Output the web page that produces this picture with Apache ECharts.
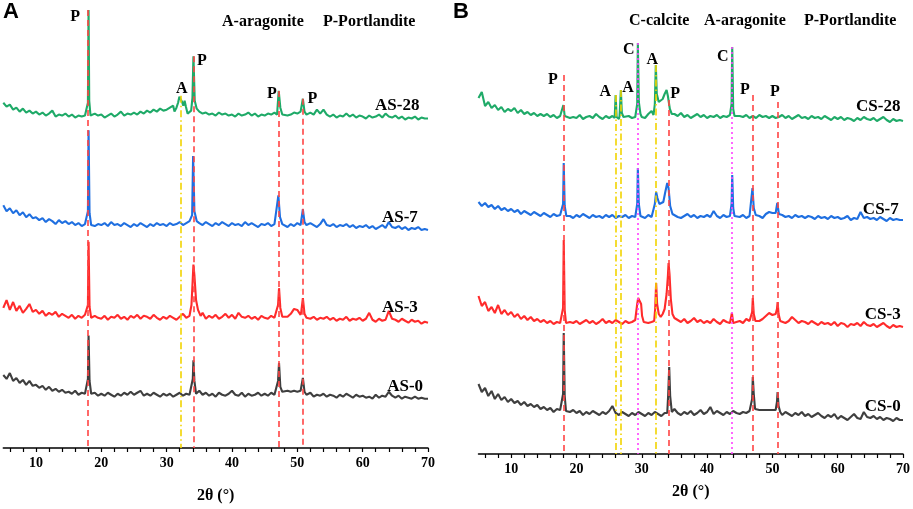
<!DOCTYPE html>
<html>
<head>
<meta charset="utf-8">
<script src="https://cdn.jsdelivr.net/npm/echarts@6.0.0/dist/echarts.min.js"></script>
<style>
  html, body { margin: 0; padding: 0; background: #fff; }
  #chart { width: 913px; height: 509px; }
</style>
</head>
<body>
<div id="chart"></div>
<script type="text/javascript">
// baseline points every 0.5 deg from 5 to 70, peaks given as [2theta, intensity]
var xStart = 5, xStep = 0.5;
var tickValues = [6, 8, 10, 12, 14, 16, 18, 20, 22, 24, 26, 28, 30, 32, 34, 36, 38, 40, 42, 44, 46, 48, 50, 52, 54, 56, 58, 60, 62, 64, 66, 68, 70];
var labelValues = [10, 20, 30, 40, 50, 60, 70];

// ---- panel A ----
var as28Base = [
  350,346,348,343,345,341,344,340,342,339,
  341,338,340,337,339,342,336,338,337,339,
  336,338,335,337,336,337,338,336,339,337,
  338,335,337,339,336,338,341,337,339,338,
  340,338,341,339,342,340,343,341,344,342,
  343,345,347,352,350,347,346,349,346,343,
  341,339,340,338,339,337,340,338,339,337,
  338,336,339,337,338,340,337,339,336,338,
  337,339,338,340,341,338,339,337,338,340,
  339,341,338,336,340,338,343,339,343,338,
  336,338,335,337,336,339,336,338,335,337,
  336,334,337,335,336,338,335,339,336,335,
  337,334,336,333,335,334,336,333,335,334,
  334];
var as28Peaks = [
  [[17.75,338],[17.95,350],[18.05,444],[18.15,352],[18.35,337]],
  [[31.2,341],[31.5,345],[31.75,350],[31.95,356],[32.15,357],[32.35,351],[32.55,347],[32.75,352],[32.95,346],[33.2,339],[33.5,338],[33.75,342],[33.95,355],[34.1,397],[34.3,352],[34.6,344],[35.0,341]],
  [[46.9,338],[47.15,362],[47.4,345],[47.7,338]],
  [[50.6,339],[50.85,354],[51.1,341],[51.4,338]]
];
var as7Base = [
  246,240,243,238,241,236,239,234,237,233,
  234,231,233,229,232,230,227,231,228,230,
  227,229,226,228,225,227,226,228,225,227,
  226,228,225,229,226,227,225,228,226,224,
  227,225,228,226,224,227,225,228,226,227,
  225,228,226,227,229,226,228,230,229,227,
  228,226,229,227,225,228,226,229,227,225,
  228,226,227,225,229,226,228,226,224,227,
  226,228,225,227,229,227,226,224,227,225,
  228,226,227,225,228,226,224,227,232,226,
  225,227,224,226,225,227,224,226,223,225,
  224,226,223,225,222,224,226,223,229,224,
  223,225,222,224,221,223,222,224,221,222,
  221];
var as7Peaks = [
  [[17.7,228],[17.95,240],[18.05,322],[18.2,238],[18.45,226]],
  [[33.6,228],[33.9,236],[34.05,296],[34.25,240],[34.6,230],[35.0,228]],
  [[46.8,228],[47.1,256],[47.35,234],[47.7,227]],
  [[50.6,227],[50.85,242],[51.1,229],[51.4,226]]
];
var as3Base = [
  142,150,140,148,139,144,137,141,146,138,
  140,136,139,134,137,135,138,133,136,134,
  132,135,131,134,132,135,133,131,134,132,
  131,134,130,133,132,135,131,133,130,134,
  132,135,131,134,133,131,135,132,130,133,
  131,134,132,130,133,136,132,138,140,138,
  134,137,131,134,132,135,131,133,136,132,
  135,131,137,133,132,134,131,133,130,134,
  132,131,134,132,133,131,134,133,136,141,
  140,135,132,134,131,133,130,132,131,133,
  130,132,129,131,130,133,129,131,130,132,
  129,131,137,130,128,131,129,130,139,131,
  130,128,131,129,127,130,128,129,126,128,
  127];
var as3Peaks = [
  [[17.7,133],[17.95,145],[18.05,209],[18.2,143],[18.45,132]],
  [[33.5,134],[33.8,145],[34.0,172],[34.1,186],[34.25,175],[34.5,150],[34.8,140],[35.2,134]],
  [[46.8,133],[47.05,145],[47.2,162],[47.4,142],[47.7,133]],
  [[50.6,138],[50.85,152],[51.1,136],[51.4,132]]
];
var as0Base = [
  74,70,76,68,71,66,69,64,68,63,
  64,61,63,59,62,58,60,57,59,56,
  57,55,58,54,56,55,57,54,56,53,
  55,53,56,54,52,55,53,56,54,57,
  54,56,58,53,55,53,56,54,52,55,
  53,55,52,54,56,53,55,54,53,55,
  58,54,56,53,55,52,56,54,53,55,
  58,54,53,56,52,55,53,54,56,53,
  55,53,56,54,57,58,57,58,57,58,
  57,58,55,53,56,52,54,53,55,52,
  54,53,51,54,52,55,53,51,54,52,
  53,51,52,50,54,51,53,52,57,53,
  51,53,50,52,51,50,52,50,51,50,
  50];
var as0Peaks = [
  [[17.7,56],[17.95,70],[18.05,114],[18.2,68],[18.45,55]],
  [[33.8,54],[34.0,70],[34.1,89],[34.25,68],[34.5,55]],
  [[46.8,55],[47.05,68],[47.2,86],[47.4,62],[47.7,57]],
  [[50.6,58],[50.85,71],[51.1,57],[51.4,54]]
];

// ---- panel B ----
var cs28Base = [
  356,362,348,352,346,349,344,347,342,345,
  343,346,341,344,340,342,339,341,338,340,
  338,340,337,339,336,338,337,339,336,337,
  336,339,335,337,338,336,340,337,335,338,
  336,338,337,335,339,336,338,336,337,339,
  337,336,340,343,345,348,352,356,350,343,
  340,338,341,337,339,336,338,340,337,339,
  336,338,337,339,336,338,337,339,338,336,
  338,337,339,336,338,336,339,337,338,336,
  338,336,337,339,336,338,335,337,339,336,
  337,335,338,336,337,335,338,336,334,337,
  335,337,334,336,335,333,336,334,337,335,
  334,336,333,335,337,334,332,335,333,334,
  333];
var cs28Peaks = [
  [[17.8,337],[18.0,349],[18.2,338]],
  [[25.85,336],[26.0,359],[26.15,337]],
  [[26.6,338],[26.8,364],[26.95,341],[27.2,337]],
  [[29.1,338],[29.3,350],[29.4,411],[29.55,352],[29.8,340],[30.0,337]],
  [[31.8,339],[32.0,350],[32.15,389],[32.3,360],[32.6,352],[32.9,350],[33.2,355],[33.5,360],[33.8,364],[34.0,358],[34.3,345],[34.6,340]],
  [[43.6,337],[43.75,350],[43.85,407],[44.0,345],[44.2,338]]
];
var cs7Base = [
  252,248,251,247,249,245,248,244,246,243,
  245,242,244,240,243,241,239,242,240,238,
  241,239,237,240,238,239,237,240,238,236,
  239,237,240,238,236,239,237,238,236,239,
  237,239,236,238,237,239,236,238,237,236,
  238,236,239,237,238,240,239,238,240,238,
  239,237,236,238,240,237,239,236,238,237,
  239,237,243,238,236,239,237,238,236,239,
  237,239,236,238,237,239,238,236,240,242,
  241,238,236,239,237,238,236,239,237,238,
  236,238,237,235,238,236,237,235,238,236,
  237,235,236,238,234,236,235,242,236,237,
  235,236,234,237,235,233,236,234,235,234,
  234];
var cs7Peaks = [
  [[17.7,239],[17.95,250],[18.05,291],[18.2,248],[18.45,238]],
  [[29.1,237],[29.3,250],[29.4,286],[29.55,250],[29.8,238]],
  [[31.8,238],[32.0,250],[32.2,262],[32.4,256],[32.7,250],[33.0,248],[33.3,252],[33.6,262],[33.9,271],[34.1,266],[34.35,248],[34.7,240]],
  [[43.6,238],[43.75,250],[43.85,279],[44.0,246],[44.2,238]],
  [[46.7,238],[46.95,266],[47.15,246],[47.45,239]],
  [[50.5,241],[50.75,251],[51.0,240]]
];
var cs3Base = [
  158,148,152,143,147,141,149,140,144,139,
  142,137,140,135,138,134,137,133,135,132,
  134,131,133,130,132,131,133,130,132,131,
  133,130,132,134,131,133,130,132,135,131,
  133,131,134,132,130,133,131,132,134,136,
  137,133,131,132,134,137,140,145,150,148,
  138,134,132,135,131,133,136,132,134,131,
  133,131,135,132,130,134,132,131,134,132,
  133,131,135,133,132,134,133,135,138,141,
  139,136,132,134,131,133,137,134,131,133,
  132,130,133,131,129,132,130,131,129,132,
  128,131,130,127,130,129,131,128,132,129,
  128,130,127,129,131,128,126,129,127,128,
  127];
var cs3Peaks = [
  [[17.75,132],[17.95,146],[18.05,214],[18.2,144],[18.4,131]],
  [[29.1,133],[29.3,150],[29.45,156],[29.7,154],[29.9,150],[30.05,138],[30.3,132]],
  [[31.9,133],[32.05,145],[32.2,171],[32.35,150],[32.6,140],[32.9,137],[33.2,140],[33.5,145],[33.8,160],[34.0,178],[34.1,191],[34.25,180],[34.45,155],[34.7,140],[35.0,136]],
  [[43.6,132],[43.8,141],[44.0,131]],
  [[46.7,134],[46.9,142],[47.0,156],[47.15,140],[47.4,133]],
  [[50.5,140],[50.7,145],[50.8,152],[50.95,140],[51.2,133]]
];
var cs0Base = [
  70,62,66,58,63,55,60,54,57,52,
  55,51,53,49,52,48,50,47,49,45,
  47,44,46,42,45,44,43,45,42,44,
  41,43,39,42,40,43,41,39,42,40,
  43,48,41,39,42,40,38,41,39,42,
  40,38,41,39,42,40,38,41,39,42,
  45,41,39,42,40,43,39,41,44,40,
  42,47,40,43,41,39,42,40,43,41,
  40,42,41,43,44,44,44,44,44,44,
  44,45,41,39,42,40,38,41,39,42,
  38,40,37,39,41,38,36,39,37,40,
  35,38,36,34,37,40,36,35,42,37,
  36,38,35,37,34,36,35,33,36,34,
  34];
var cs0Peaks = [
  [[17.75,44],[17.95,60],[18.05,121],[18.2,58],[18.4,43]],
  [[33.9,41],[34.05,60],[34.2,87],[34.35,58],[34.6,42]],
  [[46.7,43],[46.9,55],[47.0,77],[47.15,60],[47.35,45]],
  [[50.5,44],[50.7,52],[50.8,62],[50.95,48],[51.2,42]]
];

// reference lines: [2theta, top]
var refA_P = [[17.9,444],[34.1,397],[47.17,362],[50.85,354]];
var refA_A = [[32.2,357]];
var refB_P = [[18.0,379],[34.2,354],[47.0,359],[50.8,352]];
var refB_A = [[26.0,359],[26.8,364],[32.2,389]];
var refB_C = [[29.4,411],[43.8,407]];

// phase letters [2theta, height, text]
var marksA = [[16.0,437,'P'],[32.3,364,'A'],[35.4,392,'P'],[46.1,359,'P'],[52.3,354,'P']];
var marksB = [[16.4,374,'P'],[24.4,362,'A'],[27.9,366,'A'],[28.0,404,'C'],[31.6,394,'A'],[35.1,360,'P'],[42.4,397,'C'],[45.8,364,'P'],[50.4,362,'P']];
var namesA = [[65.3,347,'AS-28'],[65.7,234,'AS-7'],[65.7,142,'AS-3'],[66.5,62,'AS-0']];
var namesB = [[66.2,347,'CS-28'],[66.6,244,'CS-7'],[66.9,139,'CS-3'],[66.9,47,'CS-0']];

var colGreen = '#1faa68', colBlue = '#1f6fe0', colRed = '#ff2b2b', colGray = '#3f3f3f';
var serif = 'Liberation Serif';

function build(base, peaks) {
  var out = [];
  for (var i = 0; i < base.length; i++) {
    var x = xStart + i * xStep;
    var skip = false;
    for (var k = 0; k < peaks.length; k++) {
      if (x >= peaks[k][0][0] && x <= peaks[k][peaks[k].length - 1][0]) skip = true;
    }
    if (!skip) out.push([x, base[i]]);
  }
  peaks.forEach(function (p) { p.forEach(function (pt) { out.push(pt); }); });
  out.sort(function (a, b) { return a[0] - b[0]; });
  return out;
}

function trace(name, base, peaks, color, idx) {
  return {
    name: name, type: 'line', xAxisIndex: idx, yAxisIndex: idx,
    data: build(base, peaks), showSymbol: false, symbol: 'none',
    lineStyle: { color: color, width: 2.1 }, animation: false, z: 2
  };
}

function refLines(list, color, dash) {
  return list.map(function (r) {
    return [
      { coord: [r[0], r[1]], lineStyle: { color: color, type: dash, width: 1.6 } },
      { coord: [r[0], 0] }
    ];
  });
}

function textMarks(list, size) {
  return list.map(function (m) {
    return {
      coord: [m[0], m[1]], name: m[2], symbolSize: 0,
      label: { show: true, position: 'inside', formatter: m[2], color: '#000',
        fontFamily: serif, fontWeight: 'bold', fontSize: size }
    };
  });
}

function helper(idx, lines, marks) {
  return {
    type: 'line', xAxisIndex: idx, yAxisIndex: idx, data: [], z: 5, animation: false,
    markLine: { symbol: ['none', 'none'], silent: true, animation: false, label: { show: false }, data: lines },
    markPoint: { symbol: 'circle', symbolSize: 0, silent: true, animation: false, data: marks }
  };
}

function xAx(idx, gap) {
  return {
    type: 'value', gridIndex: idx, min: 5, max: 70,
    axisLine: { lineStyle: { color: '#000', width: 1.5 } },
    axisTick: { customValues: tickValues, length: 4, lineStyle: { color: '#000', width: 1.2 } },
    axisLabel: { customValues: labelValues, color: '#000', fontFamily: serif, fontWeight: 'bold', fontSize: 14, margin: 8 },
    splitLine: { show: false },
    name: '2θ (°)', nameLocation: 'middle', nameGap: gap,
    nameTextStyle: { color: '#000', fontFamily: serif, fontWeight: 'bold', fontSize: 16 }
  };
}

function yAx(idx) {
  return { type: 'value', gridIndex: idx, min: 0, max: 444, show: false };
}

var linesA = refLines(refA_P, '#ff4444', [6, 4]).concat(refLines(refA_A, '#f2d400', [7, 3, 1.5, 3]));
var linesB = refLines(refB_P, '#ff4444', [6, 4])
  .concat(refLines(refB_A, '#f2d400', [7, 3, 1.5, 3]))
  .concat(refLines(refB_C, '#ff40ff', [2, 3]));

var chart = echarts.init(document.getElementById('chart'));
chart.setOption({
  animation: false,
  grid: [
    { left: 3.3, right: 485, top: 10, bottom: 55 },
    { left: 478.5, right: 10, top: 10, bottom: 55 }
  ],
  xAxis: [xAx(0, 40), xAx(1, 30)],
  yAxis: [yAx(0), yAx(1)],
  graphic: [
    { type: 'text', left: 3, top: 1, style: { text: 'A', font: 'bold 22px Liberation Sans', fill: '#000' } },
    { type: 'text', left: 453, top: 1, style: { text: 'B', font: 'bold 22px Liberation Sans', fill: '#000' } },
    { type: 'text', left: 222, top: 14, style: { text: 'A-aragonite', font: 'bold 16px Liberation Serif', fill: '#000' } },
    { type: 'text', left: 323, top: 14, style: { text: 'P-Portlandite', font: 'bold 16px Liberation Serif', fill: '#000' } },
    { type: 'text', left: 629, top: 13, style: { text: 'C-calcite', font: 'bold 16px Liberation Serif', fill: '#000' } },
    { type: 'text', left: 704, top: 13, style: { text: 'A-aragonite', font: 'bold 16px Liberation Serif', fill: '#000' } },
    { type: 'text', left: 804, top: 13, style: { text: 'P-Portlandite', font: 'bold 16px Liberation Serif', fill: '#000' } }
  ],
  series: [
    trace('AS-28', as28Base, as28Peaks, colGreen, 0),
    trace('AS-7', as7Base, as7Peaks, colBlue, 0),
    trace('AS-3', as3Base, as3Peaks, colRed, 0),
    trace('AS-0', as0Base, as0Peaks, colGray, 0),
    trace('CS-28', cs28Base, cs28Peaks, colGreen, 1),
    trace('CS-7', cs7Base, cs7Peaks, colBlue, 1),
    trace('CS-3', cs3Base, cs3Peaks, colRed, 1),
    trace('CS-0', cs0Base, cs0Peaks, colGray, 1),
    helper(0, linesA, textMarks(marksA, 16).concat(textMarks(namesA, 17))),
    helper(1, linesB, textMarks(marksB, 16).concat(textMarks(namesB, 17)))
  ]
});
</script>
</body>
</html>
